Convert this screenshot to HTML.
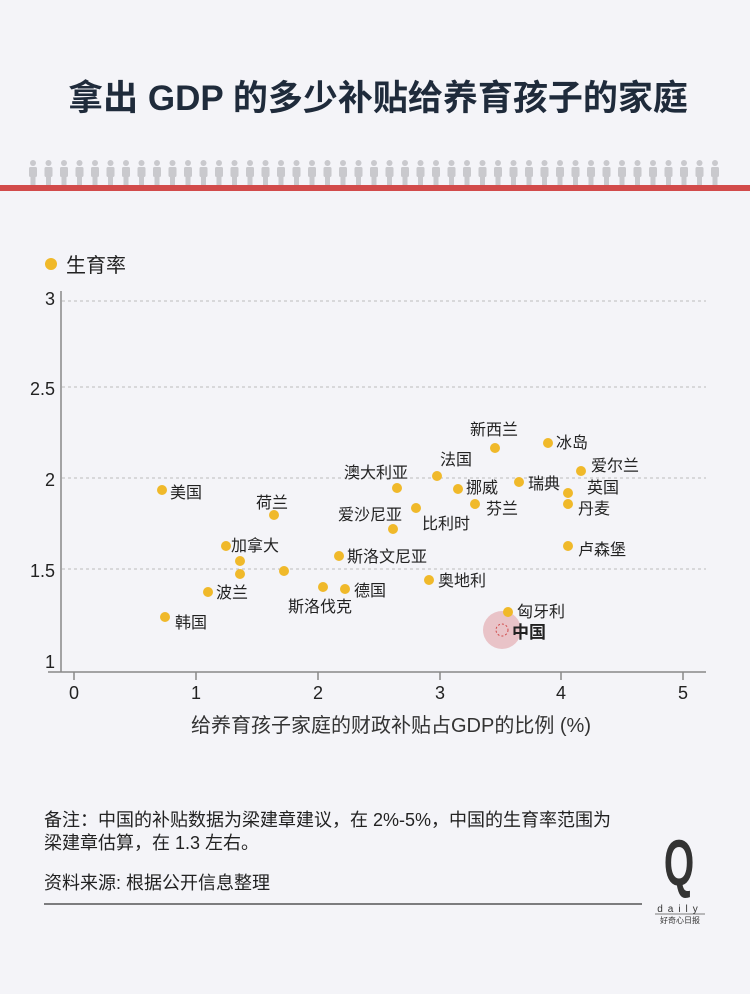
<!DOCTYPE html>
<html><head><meta charset="utf-8"><style>
body{margin:0;background:#f4f4f8;}
svg{display:block;font-family:"Liberation Sans","Noto Sans CJK SC",sans-serif;}
</style></head><body>
<svg width="750" height="994" viewBox="0 0 750 994" xmlns="http://www.w3.org/2000/svg">
<defs>
<pattern id="pp" x="25.5" y="158" width="15.5" height="30" patternUnits="userSpaceOnUse">
<g fill="#c9c9cd"><circle cx="7.5" cy="5" r="3"/><rect x="3.5" y="9" width="8" height="10" rx="1.5"/><rect x="5" y="18" width="5" height="9"/></g>
</pattern>
</defs>
<rect width="750" height="994" fill="#f4f4f8"/>
<text x="378" y="110" text-anchor="middle" font-size="35" font-weight="bold" fill="#1f2b3b">拿出 GDP 的多少补贴给养育孩子的家庭</text>
<rect x="25.5" y="158" width="698" height="27" fill="url(#pp)"/>
<rect x="0" y="185" width="750" height="6" fill="#d24b4b"/>
<circle cx="51" cy="264" r="6" fill="#f0b92a"/>
<text x="66" y="272" font-size="20" fill="#222">生育率</text>
<g stroke="#bbb" stroke-dasharray="3,3" stroke-width="1">
<line x1="62" y1="301" x2="706" y2="301"/><line x1="62" y1="387" x2="706" y2="387"/>
<line x1="62" y1="478" x2="706" y2="478"/><line x1="62" y1="569" x2="706" y2="569"/>
</g>
<g stroke="#888" stroke-width="1.5">
<line x1="61" y1="291" x2="61" y2="672"/><line x1="48" y1="672" x2="706" y2="672"/>
<line x1="74" y1="672" x2="74" y2="680"/><line x1="196" y1="672" x2="196" y2="680"/><line x1="318" y1="672" x2="318" y2="680"/><line x1="440" y1="672" x2="440" y2="680"/><line x1="561" y1="672" x2="561" y2="680"/><line x1="683" y1="672" x2="683" y2="680"/>
</g>
<g font-size="18" fill="#222" text-anchor="end">
<text x="55" y="305">3</text><text x="55" y="395">2.5</text><text x="55" y="486">2</text><text x="55" y="577">1.5</text><text x="55" y="668">1</text>
</g>
<g font-size="18" fill="#222" text-anchor="middle">
<text x="74" y="699">0</text><text x="196" y="699">1</text><text x="318" y="699">2</text><text x="440" y="699">3</text><text x="561" y="699">4</text><text x="683" y="699">5</text>
</g>
<text x="391" y="732" text-anchor="middle" font-size="20" fill="#333">给养育孩子家庭的财政补贴占GDP的比例 (%)</text>
<circle cx="502" cy="630" r="19" fill="#e9c3c8"/>
<circle cx="502" cy="630" r="6" fill="none" stroke="#d04a4a" stroke-dasharray="2,2"/>
<g fill="#f0b92a">
<circle cx="162" cy="490" r="5"/><circle cx="226" cy="546" r="5"/><circle cx="240" cy="561" r="5"/><circle cx="240" cy="574" r="5"/><circle cx="284" cy="571" r="5"/><circle cx="208" cy="592" r="5"/><circle cx="165" cy="617" r="5"/><circle cx="274" cy="515" r="5"/><circle cx="323" cy="587" r="5"/><circle cx="339" cy="556" r="5"/><circle cx="345" cy="589" r="5"/><circle cx="393" cy="529" r="5"/><circle cx="397" cy="488" r="5"/><circle cx="416" cy="508" r="5"/><circle cx="437" cy="476" r="5"/><circle cx="458" cy="489" r="5"/><circle cx="495" cy="448" r="5"/><circle cx="475" cy="504" r="5"/><circle cx="519" cy="482" r="5"/><circle cx="548" cy="443" r="5"/><circle cx="581" cy="471" r="5"/><circle cx="568" cy="493" r="5"/><circle cx="568" cy="504" r="5"/><circle cx="568" cy="546" r="5"/><circle cx="429" cy="580" r="5"/><circle cx="508" cy="612" r="5"/>
</g>
<g font-size="16" fill="#222">
<text x="170" y="498">美国</text><text x="231" y="551">加拿大</text><text x="216" y="598">波兰</text><text x="175" y="628">韩国</text><text x="256" y="508">荷兰</text><text x="288" y="612">斯洛伐克</text><text x="347" y="562">斯洛文尼亚</text><text x="354" y="596">德国</text><text x="338" y="520">爱沙尼亚</text><text x="344" y="478">澳大利亚</text><text x="422" y="529">比利时</text><text x="440" y="465">法国</text><text x="466" y="493">挪威</text><text x="470" y="435">新西兰</text><text x="486" y="514">芬兰</text><text x="528" y="489">瑞典</text><text x="556" y="448">冰岛</text><text x="591" y="471">爱尔兰</text><text x="587" y="493">英国</text><text x="578" y="514">丹麦</text><text x="578" y="555">卢森堡</text><text x="438" y="586">奥地利</text><text x="517" y="617">匈牙利</text>
<text x="512" y="638" font-weight="bold" font-size="17">中国</text>
</g>
<g font-size="18" fill="#222">
<text x="44" y="826">备注：中国的补贴数据为梁建章建议，在 2%-5%，中国的生育率范围为</text>
<text x="44" y="849">梁建章估算，在 1.3 左右。</text>
<text x="44" y="889">资料来源: 根据公开信息整理</text>
</g>
<line x1="44" y1="904" x2="642" y2="904" stroke="#555" stroke-width="1.5"/>
<text x="0" y="0" text-anchor="middle" font-size="50" font-weight="bold" fill="#333" transform="translate(679,885) scale(0.78,1.3)">Q</text>
<line x1="655" y1="914" x2="705" y2="914" stroke="#555" stroke-width="0.8"/>
<text x="680" y="912" text-anchor="middle" font-size="10" fill="#333" letter-spacing="5">daily</text>
<text x="680" y="923" text-anchor="middle" font-size="8" fill="#333">好奇心日报</text>
</svg>
</body></html>
